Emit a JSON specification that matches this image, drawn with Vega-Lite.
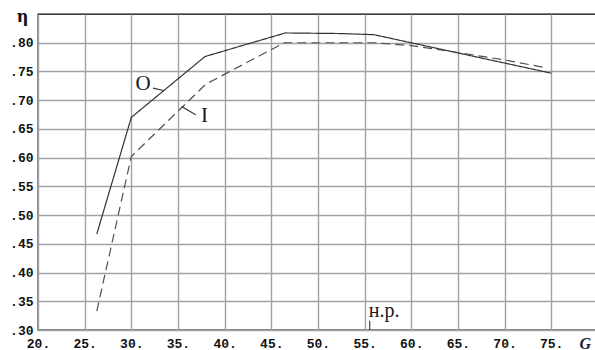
{
  "$schema": "https://vega.github.io/schema/vega-lite/v6.json",
  "width": 558,
  "height": 316,
  "autosize": {"type": "none"},
  "padding": {"left": 38, "top": 14, "right": 0, "bottom": 20},
  "background": "white",
  "config": {
    "view": {"stroke": "black", "strokeWidth": 1.3},
    "axis": {
      "domain": false,
      "ticks": false,
      "grid": true,
      "gridColor": "#9ea2a8",
      "gridWidth": 1.4,
      "labelFont": "Liberation Mono",
      "labelFontWeight": "bold",
      "labelFontSize": 13,
      "labelColor": "#111111",
      "tickCount": 30
    }
  },
  "datasets": {
    "curves": [
      {"series": "O", "G": 26.3, "eta": 0.467},
      {"series": "O", "G": 30.0, "eta": 0.670},
      {"series": "O", "G": 37.9, "eta": 0.776},
      {"series": "O", "G": 46.5, "eta": 0.817},
      {"series": "O", "G": 52.4, "eta": 0.816},
      {"series": "O", "G": 56.0, "eta": 0.814},
      {"series": "O", "G": 75.0, "eta": 0.747},
      {"series": "I", "G": 26.3, "eta": 0.333},
      {"series": "I", "G": 30.0, "eta": 0.602},
      {"series": "I", "G": 38.0, "eta": 0.728},
      {"series": "I", "G": 46.4, "eta": 0.800},
      {"series": "I", "G": 56.0, "eta": 0.800},
      {"series": "I", "G": 60.0, "eta": 0.795},
      {"series": "I", "G": 65.0, "eta": 0.783},
      {"series": "I", "G": 70.0, "eta": 0.770},
      {"series": "I", "G": 74.6, "eta": 0.756}
    ],
    "labels": [
      {"text": "O", "G": 31.25, "eta": 0.728},
      {"text": "I", "G": 37.85, "eta": 0.673}
    ],
    "leaders": [
      {"G": 32.33, "eta": 0.721, "G2": 33.43, "eta2": 0.717},
      {"G": 35.40, "eta": 0.689, "G2": 36.90, "eta2": 0.6746}
    ],
    "marker": [
      {"G": 55.55, "eta": 0.30, "eta2": 0.316, "text": "н.р.", "ty": 0.323}
    ]
  },
  "layer": [
    {
      "data": {"name": "curves"},
      "mark": {"type": "line", "strokeWidth": 1.2},
      "encoding": {
        "x": {
          "field": "G",
          "type": "quantitative",
          "scale": {"domain": [20, 79.8], "nice": false, "zero": false},
          "axis": {
            "values": [20, 25, 30, 35, 40, 45, 50, 55, 60, 65, 70, 75],
            "tickCount": 30,
            "labelExpr": "format(datum.value, 'd') + '.'",
            "labelPadding": 17,
            "labelBaseline": "alphabetic",
            "labelFlush": false,
            "labelOverlap": false,
            "title": "G",
            "titleFont": "Liberation Serif",
            "titleFontStyle": "italic",
            "titleFontWeight": "bold",
            "titleFontSize": 16,
            "titleColor": "#1c1c3a",
            "titleAlign": "left",
            "titleBaseline": "alphabetic",
            "titleAnchor": null,
            "titleX": 541,
            "titleY": 18
          }
        },
        "y": {
          "field": "eta",
          "type": "quantitative",
          "scale": {"domain": [0.30, 0.85], "nice": false, "zero": false},
          "axis": {
            "values": [0.30, 0.35, 0.40, 0.45, 0.50, 0.55, 0.60, 0.65, 0.70, 0.75, 0.80],
            "tickCount": 30,
            "labelExpr": "replace(format(datum.value, '.2f'), '0.', '.')",
            "labelPadding": 5,
            "labelFlush": false,
            "labelOverlap": false,
            "title": "η",
            "titleAngle": 0,
            "titleFont": "DejaVu Serif",
            "titleFontWeight": "bold",
            "titleFontSize": 16,
            "titleColor": "#111111",
            "titleAlign": "center",
            "titleBaseline": "alphabetic",
            "titleAnchor": null,
            "titleX": -16,
            "titleY": 7
          }
        },
        "order": {"field": "G", "type": "quantitative"},
        "color": {
          "field": "series",
          "type": "nominal",
          "scale": {"domain": ["O", "I"], "range": ["#333333", "#505050"]},
          "legend": null
        },
        "strokeDash": {
          "field": "series",
          "type": "nominal",
          "scale": {"domain": ["O", "I"], "range": [[1, 0], [9, 5]]},
          "legend": null
        }
      }
    },
    {
      "data": {"name": "leaders"},
      "mark": {"type": "rule", "color": "#333333", "strokeWidth": 1.1},
      "encoding": {
        "x": {"field": "G", "type": "quantitative"},
        "y": {"field": "eta", "type": "quantitative"},
        "x2": {"field": "G2"},
        "y2": {"field": "eta2"}
      }
    },
    {
      "data": {"name": "labels"},
      "mark": {"type": "text", "font": "Liberation Serif", "fontSize": 21, "color": "#1a1a1a", "align": "center", "baseline": "middle"},
      "encoding": {
        "x": {"field": "G", "type": "quantitative"},
        "y": {"field": "eta", "type": "quantitative"},
        "text": {"field": "text"}
      }
    },
    {
      "data": {"name": "marker"},
      "mark": {"type": "rule", "color": "#333333", "strokeWidth": 1.1},
      "encoding": {
        "x": {"field": "G", "type": "quantitative"},
        "y": {"field": "eta", "type": "quantitative"},
        "y2": {"field": "eta2"}
      }
    },
    {
      "data": {"name": "marker"},
      "mark": {"type": "text", "font": "Liberation Serif", "fontSize": 20, "color": "#1a1a1a", "align": "left", "baseline": "alphabetic", "dx": -1},
      "encoding": {
        "x": {"field": "G", "type": "quantitative"},
        "y": {"field": "ty", "type": "quantitative"},
        "text": {"field": "text"}
      }
    }
  ]
}
